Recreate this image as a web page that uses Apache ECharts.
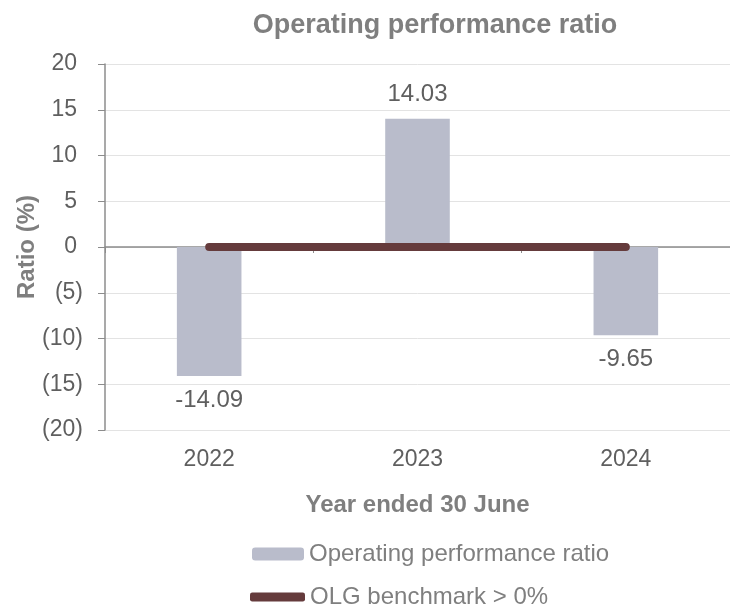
<!DOCTYPE html>
<html>
<head>
<meta charset="utf-8">
<title>Operating performance ratio</title>
<script src="https://cdn.jsdelivr.net/npm/echarts@6/dist/echarts.min.js"></script>
<style>
  html, body {margin: 0; padding: 0; background: #fff;}
  #chart {width: 730px; height: 609px;}
</style>
</head>
<body>
<div id="chart"></div>
<script>
const YEARS = ["2022", "2023", "2024"];
const RATIO = [-14.09, 14.03, -9.65];
const BENCHMARK = [0, 0, 0];

const FONT = "Liberation Sans, Arial, sans-serif";
const LABEL_GREY = "#5f5f5f";
const TITLE_GREY = "#7f7f7f";
const AXIS_GREY = "#8c8c8c";

const chart = echarts.init(document.getElementById("chart"), null, {renderer: "canvas"});

// accounting style ticks: negatives in brackets, positives padded for the ")"
const fmtTick = v => (v < 0 ? "{n|(" + Math.abs(v) + ")}" : "{p|" + v + "}");

chart.setOption({
  animation: false,
  textStyle: {fontFamily: FONT},
  title: {
    text: "Operating performance ratio",
    left: 430,
    top: 7,
    textAlign: "center",
    textStyle: {color: TITLE_GREY, fontSize: 27, fontWeight: "bold", fontFamily: FONT},
  },
  grid: {left: 105, top: 64, width: 630, height: 366, containLabel: false},
  legend: [
    {
      data: ["Operating performance ratio"],
      left: 252,
      top: 542,
      padding: 0,
      itemWidth: 52,
      itemHeight: 13,
      textStyle: {color: TITLE_GREY, fontSize: 24, fontFamily: FONT},
    },
    {
      data: [{name: "OLG benchmark > 0%", icon: "roundRect"}],
      left: 250,
      top: 585,
      padding: 0,
      itemWidth: 55,
      itemHeight: 9,
      textStyle: {color: TITLE_GREY, fontSize: 24, fontFamily: FONT},
    },
  ],
  xAxis: [
    {
      type: "category",
      data: YEARS,
      axisLine: {show: false, onZero: false},
      axisTick: {show: false},
      axisLabel: {color: LABEL_GREY, fontSize: 23, margin: 18, fontFamily: FONT},
      name: "Year ended 30 June",
      nameLocation: "middle",
      nameGap: 63,
      nameMoveOverlap: false,
      nameTextStyle: {color: TITLE_GREY, fontSize: 24, fontWeight: "bold", fontFamily: FONT},
    },
    {
      type: "category",
      data: YEARS,
      position: "bottom",
      axisLine: {show: true, onZero: true, lineStyle: {color: AXIS_GREY, width: 1.5}},
      axisTick: {show: true, length: 6, lineStyle: {color: AXIS_GREY}},
      axisLabel: {show: false},
    },
  ],
  yAxis: {
    type: "value",
    min: -20,
    max: 20,
    interval: 5,
    name: "Ratio (%)",
    nameLocation: "middle",
    nameGap: 66,
    nameMoveOverlap: false,
    nameTextStyle: {color: TITLE_GREY, fontSize: 24, fontWeight: "bold", fontFamily: FONT},
    axisLine: {show: true, lineStyle: {color: AXIS_GREY, width: 1.5}},
    axisTick: {show: true, length: 7, lineStyle: {color: AXIS_GREY}},
    axisLabel: {
      color: LABEL_GREY,
      fontSize: 23,
      margin: 22,
      fontFamily: FONT,
      formatter: fmtTick,
      rich: {
        p: {color: LABEL_GREY, fontSize: 23, fontFamily: FONT, padding: [0, 6, 0, 0]},
        n: {color: LABEL_GREY, fontSize: 23, fontFamily: FONT},
      },
    },
    splitLine: {lineStyle: {color: "#e3e3e3", width: 1}},
  },
  series: [
    {
      name: "Operating performance ratio",
      type: "bar",
      data: RATIO,
      barWidth: "31%",
      itemStyle: {color: "#b9bccb"},
      label: {
        show: true,
        position: "outside",
        distance: 12,
        color: LABEL_GREY,
        fontSize: 24,
        fontFamily: FONT,
        formatter: p => p.value.toFixed(2),
      },
      z: 2,
    },
    {
      name: "OLG benchmark > 0%",
      type: "line",
      data: BENCHMARK,
      symbol: "none",
      lineStyle: {color: "#653b3c", width: 8, cap: "round"},
      itemStyle: {color: "#653b3c"},
      z: 5,
    },
  ],
});
</script>
</body>
</html>
